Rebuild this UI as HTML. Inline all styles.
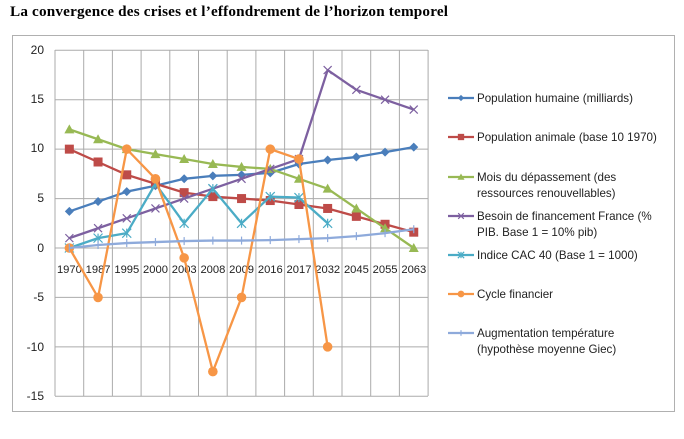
<!DOCTYPE html>
<html><head><meta charset="utf-8"><style>
body{margin:0;background:#fff;width:684px;height:434px;overflow:hidden}
svg text{font-family:"Liberation Sans","DejaVu Sans",sans-serif}
</style></head><body>
<svg id="s" width="684" height="434" xmlns="http://www.w3.org/2000/svg">
<text x="10" y="16" textLength="438" style="font-family:'Liberation Serif',serif;font-weight:bold;font-size:15.2px" fill="#000">La convergence des crises et l’effondrement de l’horizon  temporel</text>
<rect x="12.5" y="35.5" width="662" height="376" fill="#fff" stroke="#b0b0b0"/>
<g id="grid" stroke="#ababab" stroke-width="1"></g>
<g font-size="12" fill="#222" text-anchor="end">
<text x="44" y="54">20</text><text x="44" y="103">15</text><text x="44" y="152">10</text><text x="44" y="202">5</text><text x="44" y="252">0</text><text x="44" y="301">-5</text><text x="44" y="351">-10</text><text x="44" y="400">-15</text>
</g>
<g font-size="11.2" fill="#222" text-anchor="middle">
<text x="69.4" y="273">1970</text><text x="98.1" y="273">1987</text><text x="126.8" y="273">1995</text><text x="155.5" y="273">2000</text><text x="184.2" y="273">2003</text><text x="212.9" y="273">2008</text><text x="241.6" y="273">2009</text><text x="270.3" y="273">2016</text><text x="299" y="273">2017</text><text x="327.7" y="273">2032</text><text x="356.4" y="273">2045</text><text x="385.1" y="273">2055</text><text x="413.8" y="273">2063</text>
</g>
<g id="series"></g>
<g font-size="11.6" fill="#222">
<text x="477" y="102">Population humaine (milliards)</text>
<text x="477" y="141">Population animale (base 10 1970)</text>
<text x="477" y="181">Mois du dépassement  (des</text>
<text x="477" y="197">ressources renouvellables)</text>
<text x="477" y="220">Besoin de financement  France (%</text>
<text x="477" y="236">PIB. Base 1 = 10% pib)</text>
<text x="477" y="259">Indice CAC 40 (Base 1 = 1000)</text>
<text x="477" y="298">Cycle financier</text>
<text x="477" y="337">Augmentation température</text>
<text x="477" y="353">(hypothèse moyenne  Giec)</text>
</g>
<g id="leg"></g>
</svg>
<script>
const NS="http://www.w3.org/2000/svg";
const X=i=>69.35+28.7*i, Y=v=>248-9.886*v;
function el(p,t,a){const e=document.createElementNS(NS,t);for(const k in a)e.setAttribute(k,a[k]);p.appendChild(e);return e;}
const g=document.getElementById('grid');
for(let v=20;v>=-15;v-=5)el(g,'line',{x1:55,x2:428,y1:Y(v),y2:Y(v)});
for(let i=0;i<=13;i++){const x=55+28.7*i;el(g,'line',{x1:x,x2:x,y1:50,y2:396});}
const S=[
{c:'#4a7ebb',m:'d',d:[3.7,4.7,5.7,6.3,7,7.3,7.4,7.6,8.5,8.9,9.2,9.7,10.2],ly:98},
{c:'#be4b48',m:'s',d:[10,8.7,7.4,6.5,5.6,5.2,5,4.8,4.4,4,3.2,2.4,1.6],ly:137},
{c:'#98b954',m:'t',d:[12,11,10,9.5,9,8.5,8.2,8,7,6,4,2,0],ly:177},
{c:'#7d60a0',m:'x',d:[1,2,3,4,5,6,7,8,9,18,16,15,14],ly:216},
{c:'#4bacc6',m:'*',d:[0,1,1.5,6.5,2.5,6,2.5,5.2,5.1,2.5],ly:255},
{c:'#f79646',m:'o',d:[0,-5,10,7,-1,-12.5,-5,10,9,-10],ly:294},
{c:'#8eaadb',m:'+',d:[0,0.3,0.5,0.6,0.7,0.75,0.75,0.8,0.9,1,1.2,1.5,1.9],ly:333}];
const sg=document.getElementById('series'),lg=document.getElementById('leg');
function mk(p,m,x,y,c,sc){sc=sc||1;
 if(m=='d'){const r=4.5*sc;el(p,'polygon',{points:`${x},${y-r} ${x+r},${y} ${x},${y+r} ${x-r},${y}`,fill:c});}
 else if(m=='s'){const r=4.5*sc;el(p,'rect',{x:x-r,y:y-r,width:2*r,height:2*r,fill:c});}
 else if(m=='t'){const r=5*sc;el(p,'polygon',{points:`${x},${y-r} ${x+r},${y+r*0.8} ${x-r},${y+r*0.8}`,fill:c});}
 else if(m=='o'){el(p,'circle',{cx:x,cy:y,r:4.8*sc,fill:c});}
 else if(m=='x'){const r=4*sc;el(p,'path',{d:`M${x-r},${y-r}L${x+r},${y+r}M${x-r},${y+r}L${x+r},${y-r}`,stroke:c,'stroke-width':1.2,fill:'none'});}
 else if(m=='*'){const r=4.5*sc;el(p,'path',{d:`M${x-r},${y-r}L${x+r},${y+r}M${x-r},${y+r}L${x+r},${y-r}M${x},${y-r}L${x},${y+r}`,stroke:c,'stroke-width':1.2,fill:'none'});}
 else if(m=='+'){const r=4*sc;el(p,'path',{d:`M${x},${y-r}L${x},${y+r}`,stroke:c,'stroke-width':1.2,fill:'none'});}
}
S.forEach(s=>{
 el(sg,'polyline',{points:s.d.map((v,i)=>X(i)+','+Y(v)).join(' '),fill:'none',stroke:s.c,'stroke-width':2.3,'stroke-linejoin':'round'});
 s.d.forEach((v,i)=>mk(sg,s.m,X(i),Y(v),s.c));
 el(lg,'line',{x1:448,x2:474,y1:s.ly,y2:s.ly,stroke:s.c,'stroke-width':2.2});
 mk(lg,s.m,461,s.ly,s.c,0.7);
});
</script>
</body></html>
